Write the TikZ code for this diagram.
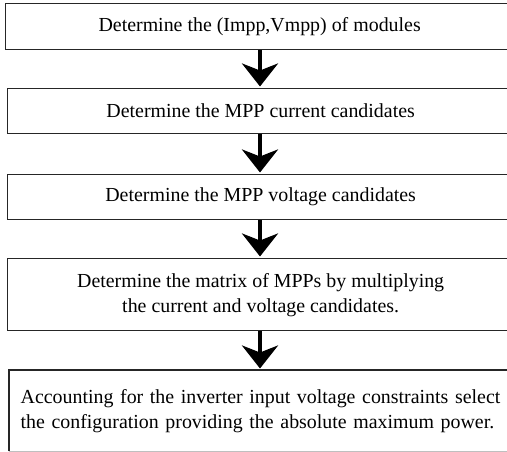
\documentclass[tikz,border=0pt]{standalone}
\usepackage{fontspec}
\setmainfont{Liberation Serif}
\usetikzlibrary{arrows.meta}

\begin{document}
\begin{tikzpicture}[x=1pt,y=-1pt,
  stepbox/.style={draw=black!85, line width=1.3pt, rectangle, anchor=north west,
    inner sep=0pt, align=center, font=\fontsize{19.9}{25}\selectfont},
  flow/.style={line width=4.5pt, black,
    -{Stealth[length=23pt, width=36pt, inset=7pt]}, shorten >=1.5pt}
]
\useasboundingbox (0,0) rectangle (507,452);
\clip (0,0) rectangle (507,452);

% process steps, top to bottom
\node[stepbox, minimum width=508pt, minimum height=46pt] (b1) at (5,3)
  {Determine the (Impp,Vmpp) of modules};
\node[stepbox, minimum width=506pt, minimum height=45pt] (b2) at (7,88)
  {Determine the MPP current candidates};
\node[stepbox, minimum width=506pt, minimum height=45pt] (b3) at (7,174)
  {Determine the MPP voltage candidates};
\node[stepbox, minimum width=506pt, minimum height=72pt] (b4) at (7,258)
  {Determine the matrix of MPPs by multiplying\\the current and voltage candidates.};
\node[stepbox, draw=none, minimum width=504pt, minimum height=80pt,
      align=left, text width=482pt, inner xsep=11pt] (b5) at (9,370)
  {Accounting for the inverter input voltage constraints select\\
   the configuration providing the absolute maximum power.};
\draw[black!85, line width=1.3pt] (b5.south west) -- (b5.north west) -- (b5.north east) -- (b5.south east);
\draw[black!25, line width=1pt] (b5.south west) -- (b5.south east);

% connectors
\coordinate (ax) at (260,0);
\draw[flow] (b1.south -| ax) -- (b2.north -| ax);
\draw[flow] (b2.south -| ax) -- (b3.north -| ax);
\draw[flow] (b3.south -| ax) -- (b4.north -| ax);
\draw[flow] (b4.south -| ax) -- (b5.north -| ax);
\end{tikzpicture}
\end{document}
